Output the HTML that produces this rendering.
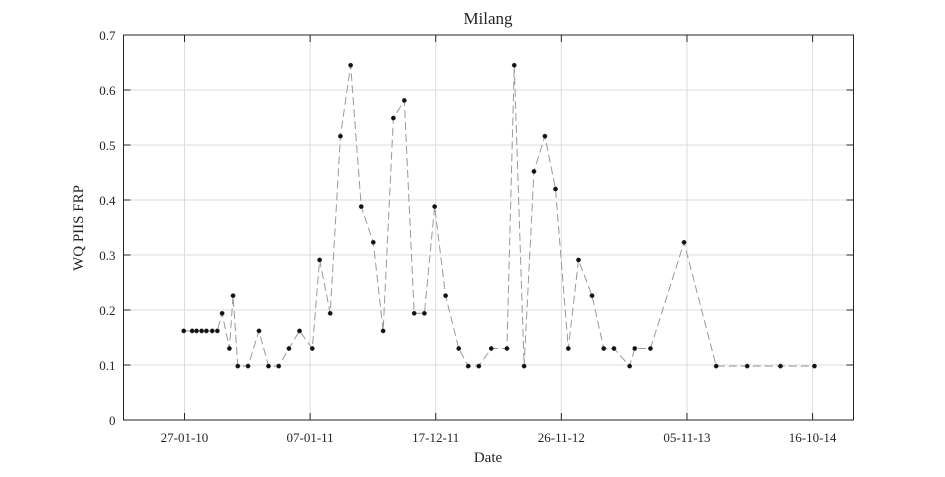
<!DOCTYPE html>
<html><head><meta charset="utf-8"><style>
body{margin:0;background:#fff;}
svg text{font-family:"Liberation Serif",serif;fill:#262626;}
</style></head><body>
<svg id="chart" width="945" height="472" xmlns="http://www.w3.org/2000/svg">
<rect width="945" height="472" fill="#fff"/>
<g id="grid"></g>
<g id="series"></g>
<g id="axes"></g>
<text x="488" y="24" text-anchor="middle" font-size="17">Milang</text>
<text x="488" y="462" text-anchor="middle" font-size="15">Date</text>
<text transform="translate(83,228) rotate(-90)" text-anchor="middle" font-size="15">WQ PIIS FRP</text>
</svg>
<script>
// days since 27-01-10
const days=[-2,21,33,47,60,76,90,103,123,133,146,174,204,230,258,286,315,350,370,399,427,455,484,517,544,572,602,629,657,685,715,751,777,806,840,883,903,930,957,987,1016,1051,1079,1116,1148,1176,1219,1233,1276,1368,1456,1541,1632,1725];
const values=[0.162,0.162,0.162,0.162,0.162,0.162,0.162,0.194,0.13,0.226,0.098,0.098,0.162,0.098,0.098,0.13,0.162,0.13,0.291,0.194,0.516,0.645,0.388,0.323,0.162,0.549,0.581,0.194,0.194,0.388,0.226,0.13,0.098,0.098,0.13,0.13,0.645,0.098,0.452,0.516,0.42,0.13,0.291,0.226,0.13,0.13,0.098,0.13,0.13,0.323,0.098,0.098,0.098,0.098];
const xTickDays=[0,344,688,1032,1376,1720];
const xTickLabels=["27-01-10","07-01-11","17-12-11","26-11-12","05-11-13","16-10-14"];
const yTicks=[0,0.1,0.2,0.3,0.4,0.5,0.6,0.7];

const L=123.5,R=853.5,T=35,B=420,XMIN=-167,XMAX=1832,YMAX=0.7;
const sx=d=>L+(d-XMIN)/(XMAX-XMIN)*(R-L);
const sy=v=>B-v/YMAX*(B-T);
const NS="http://www.w3.org/2000/svg";
function mk(tag,attrs,parent){const e=document.createElementNS(NS,tag);for(const k in attrs)e.setAttribute(k,attrs[k]);parent.appendChild(e);return e;}
const grid=document.getElementById('grid'),axes=document.getElementById('axes'),series=document.getElementById('series');
xTickDays.forEach((d,i)=>{
  const x=sx(d);
  const g=mk('line',{x1:x,x2:x,y1:T,y2:B,stroke:'#dcdcdc','stroke-width':1},grid);
  
  
  mk('line',{x1:x,x2:x,y1:B,y2:B-7,stroke:'#262626'},axes);
  mk('line',{x1:x,x2:x,y1:T,y2:T+7,stroke:'#262626'},axes);
  const t=mk('text',{x:x,y:B+22,'text-anchor':'middle','font-size':13},axes);
  t.textContent=xTickLabels[i];
  
  
});
yTicks.forEach(v=>{
  const y=sy(v);
  const g=mk('line',{x1:L,x2:R,y1:y,y2:y,stroke:'#dcdcdc','stroke-width':1},grid);
  
  
  mk('line',{x1:L,x2:L+7,y1:y,y2:y,stroke:'#262626'},axes);
  mk('line',{x1:R,x2:R-7,y1:y,y2:y,stroke:'#262626'},axes);
  const t=mk('text',{x:L-8,y:y+5,'text-anchor':'end','font-size':13},axes);
  t.textContent=v===0?"0":v.toFixed(1);
  
  
});
const box=mk('rect',{x:L,y:T,width:R-L,height:B-T,fill:'none',stroke:'#262626','stroke-width':1},axes);


const pts=days.map((d,i)=>sx(d)+','+sy(values[i])).join(' ');
const line=mk('polyline',{points:pts,fill:'none',stroke:'#9a9a9a','stroke-width':1,'stroke-dasharray':'8,4'},series);


days.forEach((d,i)=>{
  const c=mk('circle',{cx:sx(d),cy:sy(values[i]),r:2.2,fill:'#111',stroke:'#555','stroke-width':0.5},series);
  
  
});
</script>
</body></html>
